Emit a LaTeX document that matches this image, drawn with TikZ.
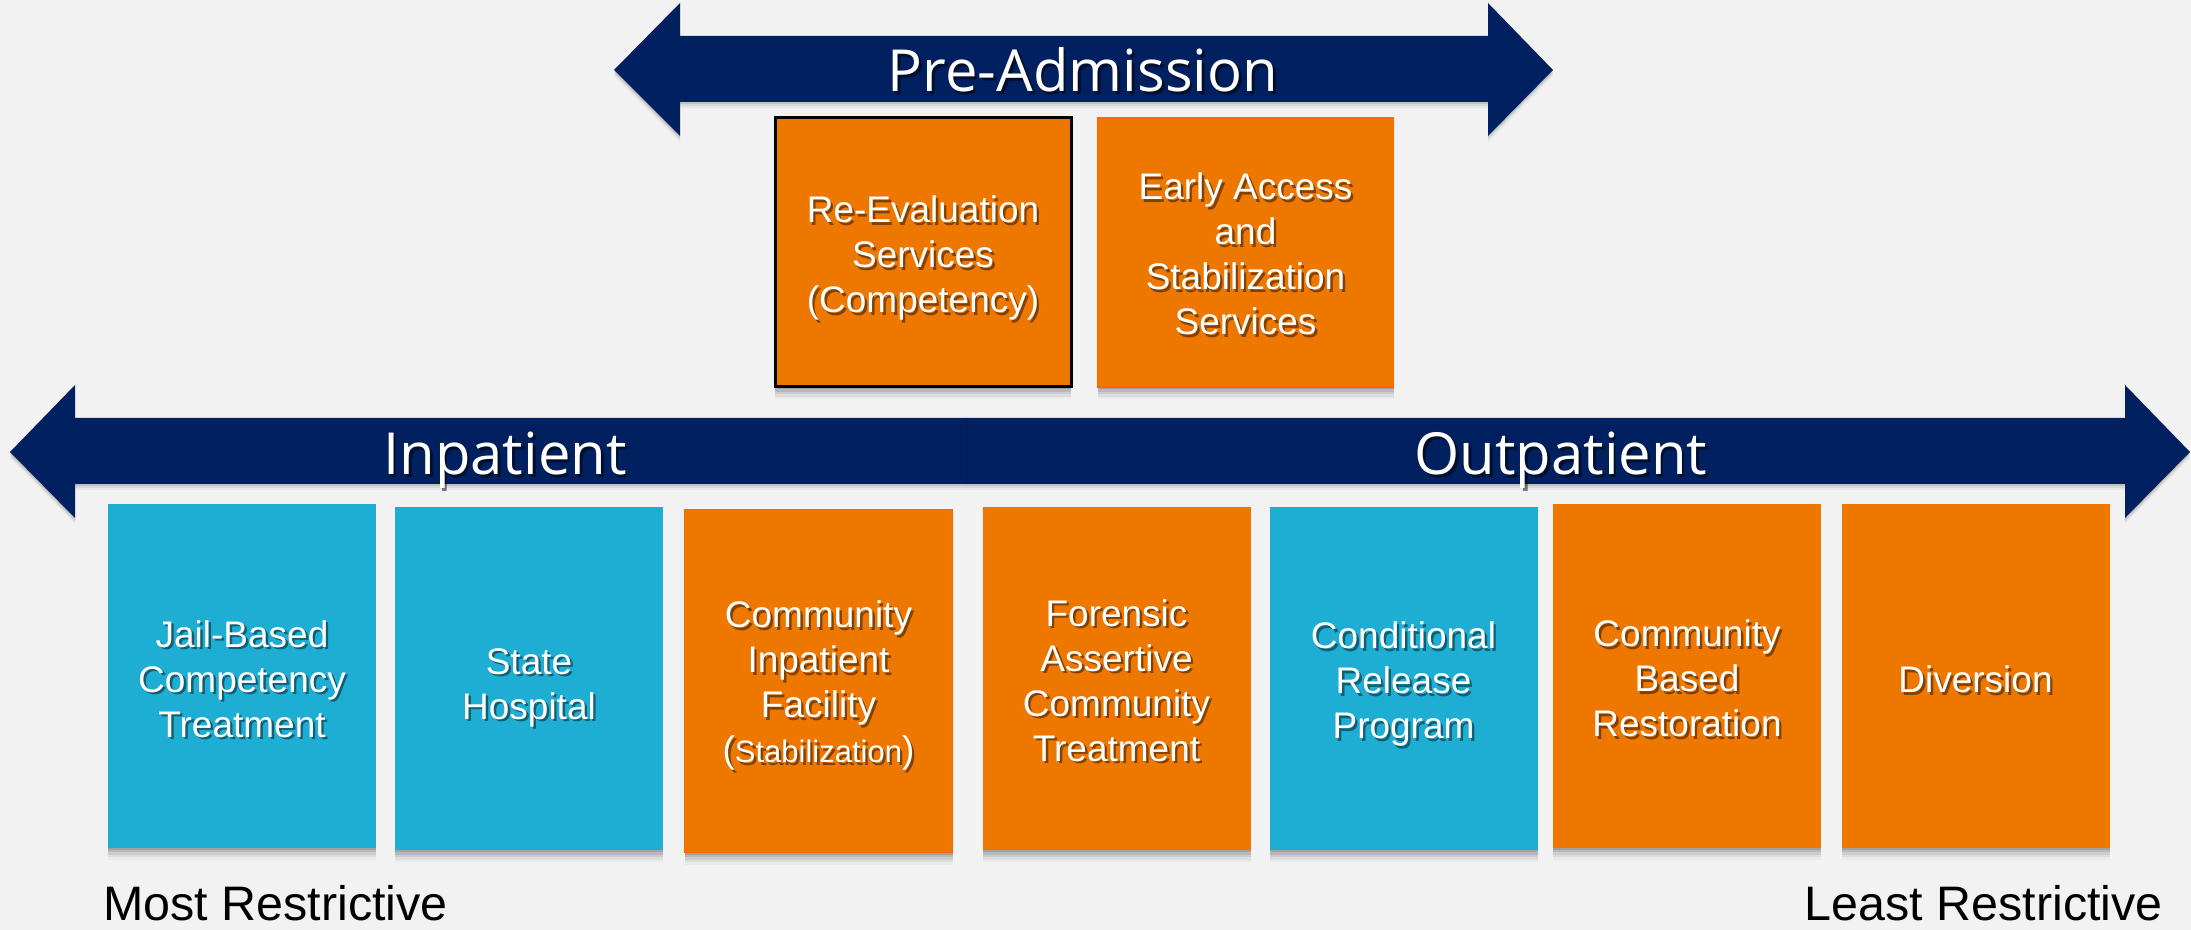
\documentclass[tikz,border=0pt]{standalone}
\usepackage{fontspec}
\setmainfont{Liberation Sans}
\newfontfamily\headfont{Open Sans}
\usetikzlibrary{shadows}
\definecolor{bg}{RGB}{242,242,242}
\definecolor{navy}{RGB}{0,32,96}
\definecolor{cblue}{RGB}{30,174,212}
\definecolor{corange}{RGB}{238,119,0}
\definecolor{cedge}{RGB}{255,102,0}
\tikzset{
  softshadow/.style={
    general shadow={shadow xshift=0pt, shadow yshift=-1.2pt, opacity=0.12, fill=black},
    general shadow={shadow xshift=0pt, shadow yshift=-2.4pt, opacity=0.10, fill=black},
    general shadow={shadow xshift=0pt, shadow yshift=-3.6pt, opacity=0.07, fill=black},
    general shadow={shadow xshift=0pt, shadow yshift=-4.8pt, opacity=0.05, fill=black},
    general shadow={shadow xshift=0pt, shadow yshift=-6pt, opacity=0.03, fill=black}},
  box/.style={inner sep=0pt, minimum width=134pt, minimum height=171.5pt, softshadow},
  topbox/.style={box, minimum width=148pt, minimum height=134.5pt},
  blue box/.style={box, fill=cblue},
  orange box/.style={box, fill=corange},
  boxtext/.style={text=white, align=center, inner sep=0pt, font=\fontsize{18.5}{22.5}\selectfont},
  boxshade/.style={boxtext, text=black, opacity=0.45},
  headtext/.style={text=white, inner sep=0pt, anchor=base, font=\headfont\fontsize{29}{34}\selectfont},
  headshade/.style={headtext, text=black, opacity=0.5},
  arrowshadow/.style={
    general shadow={shadow xshift=0pt, shadow yshift=-1pt, opacity=0.10, fill=black},
    general shadow={shadow xshift=0pt, shadow yshift=-2pt, opacity=0.07, fill=black},
    general shadow={shadow xshift=0pt, shadow yshift=-3pt, opacity=0.04, fill=black}},
  endlabel/.style={inner sep=0pt, text=black, font=\fontsize{24.2}{29}\selectfont}
}
% #1 name, #2 box node, #3 vertical shift, #4 text
\newcommand\boxlabel[4]{%
  \node[boxshade] at ([shift={(1.2pt,-1.2pt)}, yshift=#3]#2.center) {#4};
  \node[boxtext] (#1) at ([yshift=#3]#2.center) {#4};}
\newcommand\headlabel[3]{%
  \node[headshade] at ([shift={(1.3pt,-1.3pt)}]#2) {#3};
  \node[headtext] (#1) at (#2) {#3};}
\begin{document}
\begin{tikzpicture}[x=0.5pt,y=-0.5pt]
\fill[bg] (0,0) rectangle (2191,930);
\useasboundingbox (0,0) rectangle (2191,930);

% arrows
\fill[navy, arrowshadow] (614,70) -- (680,3) -- (680,36) -- (1488,36) -- (1488,3) -- (1553,70)
  -- (1488,136) -- (1488,102) -- (680,102) -- (680,136) -- cycle;
\fill[navy, arrowshadow] (10,452) -- (75,385) -- (75,418) -- (966,418) -- (966,484)
  -- (75,484) -- (75,518) -- cycle;
\fill[navy, arrowshadow] (966,418) -- (2125,418) -- (2125,385) -- (2190,452) -- (2125,518)
  -- (2125,484) -- (966,484) -- cycle;
\coordinate (divtop) at (966,418);
\coordinate (divbot) at (966,484);
\draw[navy!80!black, line width=0.4pt] (divtop) -- (divbot);

\coordinate (pa) at (1083,92);
\coordinate (ip) at (505,475);
\coordinate (op) at (1561,475);
\headlabel{preadm}{pa}{Pre-Admission}
\headlabel{inpat}{ip}{Inpatient}
\headlabel{outpat}{op}{Outpatient}

% top boxes
\node[topbox, fill=corange, draw=black, line width=1.5pt] (r1) at (923,252.5) {};
\node[topbox, fill=corange, draw=cedge, line width=0.8pt] (r2) at (1245.5,252.5) {};
\boxlabel{r1t}{r1}{-2.8pt}{Re-Evaluation\\Services\\(Competency)}
\boxlabel{r2t}{r2}{-0.7pt}{Early Access\\and\\Stabilization\\Services}

% bottom boxes
\node[blue box] (b1) at (242,676) {};
\node[blue box] (b2) at (529,678.5) {};
\node[orange box, draw=cedge, line width=0.8pt] (b3) at (818.5,681) {};
\node[orange box] (b4) at (1116.5,678.5) {};
\node[blue box] (b5) at (1403.5,678.5) {};
\node[orange box] (b6) at (1687,676) {};
\node[orange box] (b7) at (1975.5,676) {};

\boxlabel{b1t}{b1}{-1.4pt}{Jail-Based\\Competency\\Treatment}
\boxlabel{b2t}{b2}{-4.5pt}{State\\Hospital}
\boxlabel{b3t}{b3}{-2.4pt}{Community\\Inpatient\\Facility\\({\fontsize{15.5}{22.5}\selectfont Stabilization})}
\boxlabel{b4t}{b4}{-1pt}{Forensic\\Assertive\\Community\\Treatment}
\boxlabel{b5t}{b5}{-2.8pt}{Conditional\\Release\\Program}
\boxlabel{b6t}{b6}{-1.3pt}{Community\\Based\\Restoration}
\boxlabel{b7t}{b7}{-1.7pt}{Diversion}

\node[endlabel, anchor=base west] (most) at (103,920) {Most Restrictive};
\node[endlabel, anchor=base east] (least) at (2163,920) {Least Restrictive};
\end{tikzpicture}
\end{document}
